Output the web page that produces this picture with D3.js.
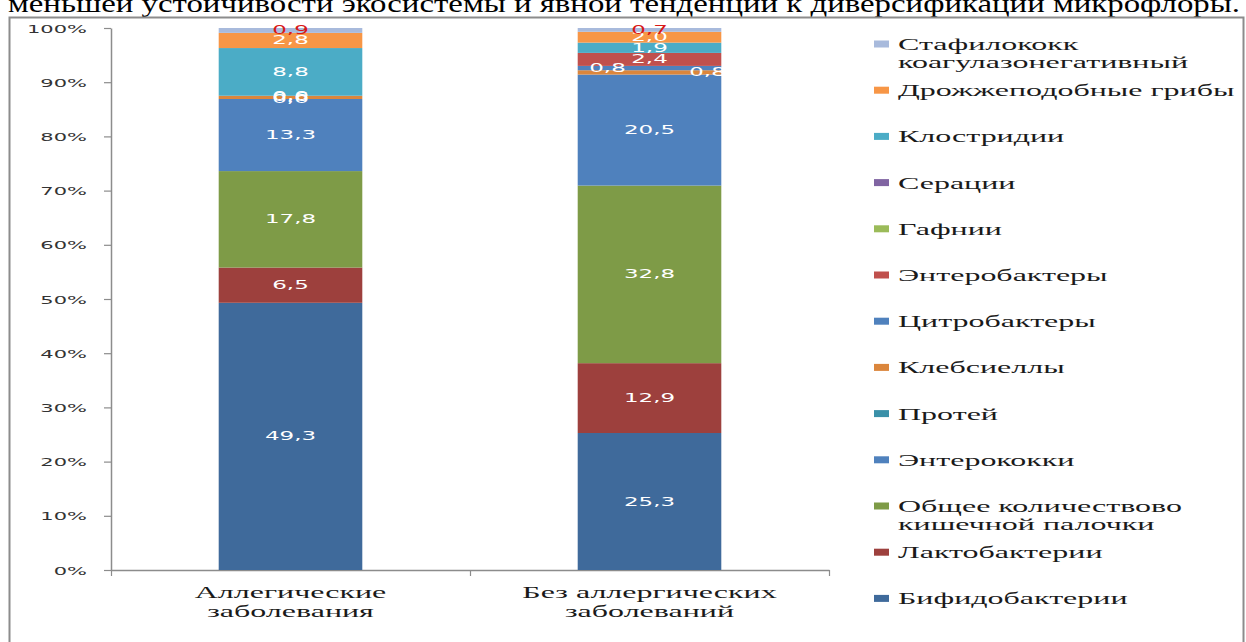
<!DOCTYPE html>
<html>
<head>
<meta charset="utf-8">
<script src="https://cdn.jsdelivr.net/npm/d3@7"></script>
<style>
  html, body { margin: 0; padding: 0; background: #fff; }
  svg { display: block; }
</style>
</head>
<body>
<svg id="chart" width="1246" height="642"></svg>
<script>
// Microflora composition (percent) by group, stacked bottom to top
const categories = [
  ["Аллегические", "заболевания"],
  ["Без аллергических", "заболеваний"]
];
const seriesNames = [
  ["Бифидобактерии"],
  ["Лактобактерии"],
  ["Общее количествово", "кишечной палочки"],
  ["Энтерококки"],
  ["Протей"],
  ["Клебсиеллы"],
  ["Цитробактеры"],
  ["Энтеробактеры"],
  ["Гафнии"],
  ["Серации"],
  ["Клостридии"],
  ["Дрожжеподобные грибы"],
  ["Стафилококк", "коагулазонегативный"]
];
const seriesColors = [
  "#3f6a9b", "#9d403d", "#7e9b47", "#4f81bd", "#3a90a8", "#db863c",
  "#4f81bd", "#c0504d", "#9bbb59", "#8064a2", "#4bacc6", "#f79646", "#a8badc"
];
const allergicValues    = [49.3, 6.5, 17.8, 13.3, 0, 0.6, 0, null, null, null, 8.8, 2.8, 0.9];
const nonAllergicValues = [25.3, 12.9, 32.8, 20.5, null, 0.8, 0.8, 2.4, null, null, 1.9, 2.0, 0.7];
const yTickValues = [0, 0.1, 0.2, 0.3, 0.4, 0.5, 0.6, 0.7, 0.8, 0.9, 1.0];

// Hand-moved data labels (series index, category index, horizontal shift)
const labelShifts = [
  { s: 6, c: 1, dx: -42 },
  { s: 5, c: 1, dx: 58 }
];

const SX = 2.0; // horizontal stretch of all lettering

const svg = d3.select("#chart");
const rows = [allergicValues, nonAllergicValues].map((v, i) => ({ cat: i, values: v }));
const keys = seriesNames.map((_, i) => i);

const fmt = d3.formatLocale({ decimal: ",", thousands: " ", grouping: [3], currency: ["", ""] }).format(".1f");

// Text helper: place text and stretch it horizontally
function sText(parent, x, y, str, o = {}) {
  return parent.append("text")
    .attr("transform", `translate(${x},${y}) scale(${SX},1)`)
    .attr("text-anchor", o.anchor || "start")
    .attr("font-family", o.family || "'Liberation Serif', serif")
    .attr("font-size", o.size || 16)
    .attr("fill", o.fill || "#111")
    .text(str);
}

// Intro line of the surrounding document
svg.append("text")
  .attr("x", 8).attr("y", 12)
  .attr("font-family", "'Liberation Serif', serif")
  .attr("font-size", 26)
  .attr("textLength", 1232)
  .attr("lengthAdjust", "spacingAndGlyphs")
  .attr("fill", "#000")
  .text("меньшей устойчивости экосистемы и явной тенденции к диверсификации микрофлоры.");

// Chart frame
svg.append("rect")
  .attr("x", 9.5).attr("y", 17.5)
  .attr("width", 1234).attr("height", 640)
  .attr("fill", "none").attr("stroke", "#8c8c8c").attr("stroke-width", 2);

// Scales
const x = d3.scaleBand().domain([0, 1]).range([111, 829]).padding(0);
const xEdges = d3.scaleLinear().domain([0, 2]).range([111, 829]);
const y = d3.scaleLinear().domain([0, 1]).range([570, 28]);
const barW = x.bandwidth() * 0.4;

// Stacked 100% layout
const stack = d3.stack()
  .keys(keys)
  .value((d, k) => d.values[k] == null ? 0 : d.values[k])
  .offset(d3.stackOffsetExpand);
const layers = stack(rows);

// Y axis
const yAxis = svg.append("g")
  .attr("transform", "translate(111,0)")
  .call(d3.axisLeft(y).tickValues(yTickValues).tickFormat(d3.format(".0%")).tickSize(7).tickSizeOuter(0));
yAxis.select(".domain").attr("stroke", "#8c8c8c").attr("stroke-width", 1.5);
yAxis.selectAll(".tick line").attr("stroke", "#8c8c8c").attr("stroke-width", 1.2);
yAxis.selectAll(".tick text")
  .attr("x", null).attr("dy", null)
  .attr("transform", `translate(-24,4) scale(${SX},1)`)
  .attr("font-family", "'DejaVu Sans', sans-serif")
  .attr("font-size", 10.5)
  .attr("fill", "#333");

// X axis (ticks at category boundaries)
const xAxis = svg.append("g")
  .attr("transform", "translate(0,570)")
  .call(d3.axisBottom(xEdges).tickValues([0, 1, 2]).tickFormat("").tickSize(6).tickSizeOuter(0));
xAxis.select(".domain").attr("stroke", "#8c8c8c").attr("stroke-width", 1.5);
xAxis.selectAll(".tick line").attr("stroke", "#8c8c8c").attr("stroke-width", 1.2);

// Bars
const barsG = svg.append("g");
layers.forEach((layer, si) => {
  barsG.selectAll(null)
    .data(layer)
    .join("rect")
    .attr("x", d => x(d.data.cat) + (x.bandwidth() - barW) / 2)
    .attr("y", d => y(d[1]))
    .attr("width", barW)
    .attr("height", d => Math.max(0, y(d[0]) - y(d[1])))
    .attr("fill", seriesColors[si]);
});

// Value labels
const labelsG = svg.append("g");
layers.forEach((layer, si) => {
  layer.forEach(d => {
    const v = d.data.values[si];
    if (v == null) return;
    const shift = labelShifts.find(s => s.s === si && s.c === d.data.cat);
    const cx = x(d.data.cat) + x.bandwidth() / 2 + (shift ? shift.dx : 0);
    const cy = y((d[0] + d[1]) / 2);
    sText(labelsG, cx, cy + 4, fmt(v), {
      anchor: "middle",
      family: "'DejaVu Sans', sans-serif",
      size: 11.5,
      fill: si === seriesNames.length - 1 ? "#d81818" : "#ffffff"
    });
  });
});

// Category labels
categories.forEach((lines, ci) => {
  lines.forEach((line, li) => {
    sText(svg, x(ci) + x.bandwidth() / 2, 598 + li * 19, line, { anchor: "middle", size: 16, fill: "#1a1a1a" });
  });
});

// Legend (top entry is the last series)
const legend = svg.append("g");
const legendOrder = keys.slice().reverse();
legendOrder.forEach((si, i) => {
  const cy = 44 + i * 46.2;
  legend.append("rect")
    .attr("x", 874).attr("y", cy - 3.5)
    .attr("width", 15).attr("height", 7)
    .attr("fill", seriesColors[si]);
  seriesNames[si].forEach((line, li) => {
    sText(legend, 898, cy + 6 + li * 18, line, { size: 16, fill: "#1a1a1a" });
  });
});
</script>
</body>
</html>
